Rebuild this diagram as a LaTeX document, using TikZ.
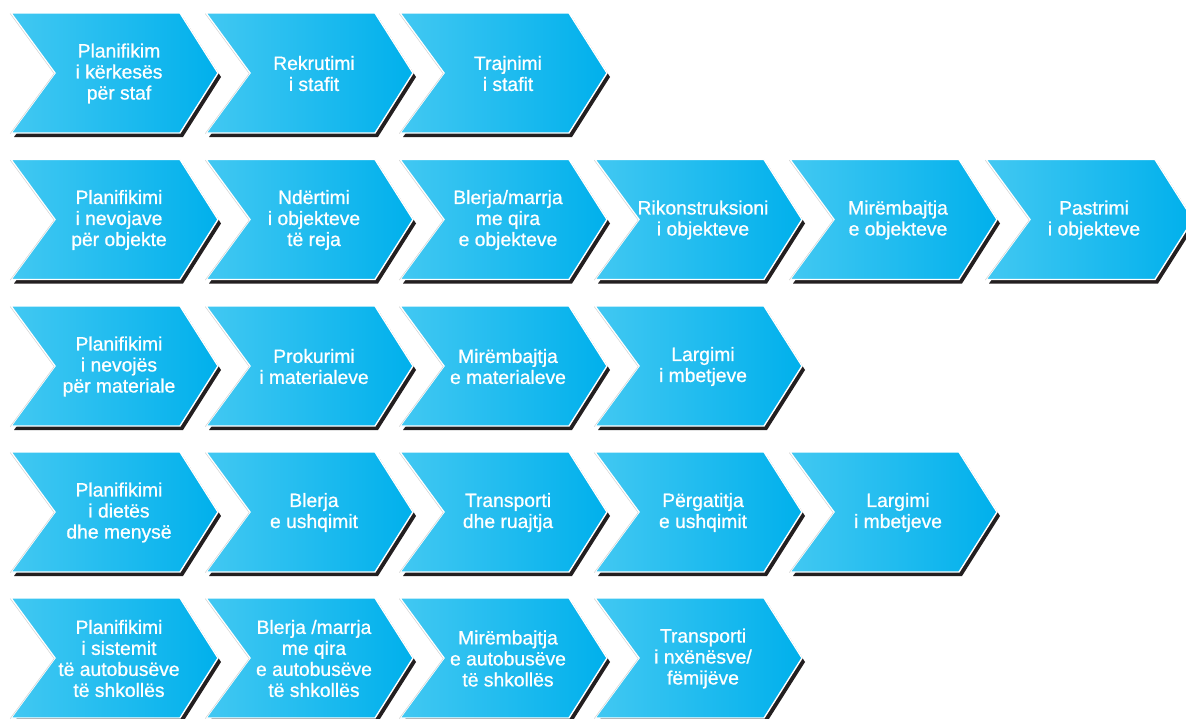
\documentclass[tikz,border=0pt]{standalone}
\usepackage{fontspec}
\setmainfont{Liberation Sans}
\newfontfamily\chevfont{Liberation Sans}[RawFeature={embolden=0.8}]
\definecolor{cyanL}{RGB}{66,200,242}
\definecolor{cyanR}{RGB}{0,176,236}
\definecolor{shad}{RGB}{35,31,32}
\tikzset{
  chevshadow/.style={fill=shad},
  chevbody/.style={left color=cyanL, right color=cyanR, draw=white, line width=1.4pt},
  chevedge/.style={draw=black!18, line width=0.5pt},
  chevtext/.style={text=white, align=center, font=\chevfont\fontsize{19.3}{21}\selectfont, inner sep=0pt},
}
\newcommand{\chevron}[4]{%
  \fill[chevshadow] (#1+3,#2+4) -- ++(169,0) -- ++(38,60) -- ++(-38,60) -- ++(-169,0) -- ++(44,-60) -- cycle;
  \path[chevbody] (#1,#2) -- ++(169,0) -- ++(38,60) -- ++(-38,60) -- ++(-169,0) -- ++(44,-60) -- cycle;
  \draw[chevedge] (#1-0.8,#2+0.6) -- ++(44,60) -- ++(-44,60);
  \node[chevtext] (#3) at (#1+108,#2+60.5) {#4};
}
\begin{document}
\begin{tikzpicture}[x=1pt,y=-1pt]
\useasboundingbox (0,0) rectangle (1186,718);
\clip (0,0) rectangle (1186,718);
% row 1
\chevron{11}{13}{a1}{Planifikim\\i kërkesës\\për staf}
\chevron{206}{13}{a2}{Rekrutimi\\i stafit}
\chevron{400}{13}{a3}{Trajnimi\\i stafit}
% row 2
\chevron{11}{159.5}{b1}{Planifikimi\\i nevojave\\për objekte}
\chevron{206}{159.5}{b2}{Ndërtimi\\i objekteve\\të reja}
\chevron{400}{159.5}{b3}{Blerja/marrja\\me qira\\e objekteve}
\chevron{595}{159.5}{b4}{Rikonstruksioni\\i objekteve}
\chevron{790}{159.5}{b5}{Mirëmbajtja\\e objekteve}
\chevron{986}{159.5}{b6}{Pastrimi\\i objekteve}
% row 3
\chevron{11}{306}{c1}{Planifikimi\\i nevojës\\për materiale}
\chevron{206}{306}{c2}{Prokurimi\\i materialeve}
\chevron{400}{306}{c3}{Mirëmbajtja\\e materialeve}
\chevron{595}{306}{c4}{Largimi\\i mbetjeve}
% row 4
\chevron{11}{452}{d1}{Planifikimi\\i dietës\\dhe menysë}
\chevron{206}{452}{d2}{Blerja\\e ushqimit}
\chevron{400}{452}{d3}{Transporti\\dhe ruajtja}
\chevron{595}{452}{d4}{Përgatitja\\e ushqimit}
\chevron{790}{452}{d5}{Largimi\\i mbetjeve}
% row 5
\chevron{11}{598}{e1}{Planifikimi\\i sistemit\\të autobusëve\\të shkollës}
\chevron{206}{598}{e2}{Blerja /marrja\\me qira\\e autobusëve\\të shkollës}
\chevron{400}{598}{e3}{Mirëmbajtja\\e autobusëve\\të shkollës}
\chevron{595}{598}{e4}{Transporti\\i nxënësve/\\fëmijëve}
\end{tikzpicture}
\end{document}
